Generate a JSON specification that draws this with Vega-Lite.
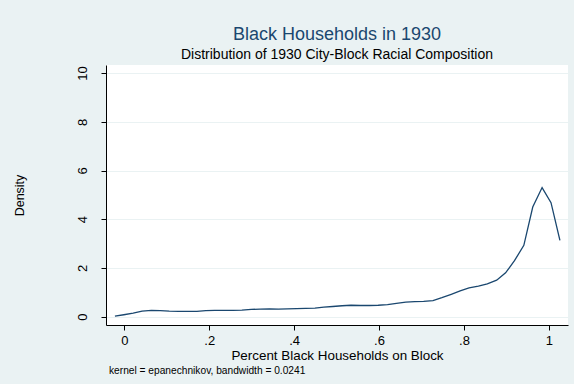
{
  "$schema": "https://vega.github.io/schema/vega-lite/v6.json",
  "autosize": {"type": "pad"},
  "padding": {"left": 13, "top": 26, "right": 6, "bottom": 7},
  "background": "#eaf2f3",
  "title": {
    "text": "Black Households in 1930",
    "subtitle": "Distribution of 1930 City-Block Racial Composition",
    "anchor": "middle",
    "frame": "group",
    "font": "Liberation Sans",
    "fontSize": 18,
    "fontWeight": "normal",
    "color": "#1a476f",
    "subtitleFont": "Liberation Sans",
    "subtitleFontSize": 14,
    "subtitleColor": "#000000",
    "subtitlePadding": 4,
    "offset": 3
  },
  "config": {
    "view": {"stroke": null, "fill": "#ffffff"},
    "font": "Liberation Sans"
  },
  "vconcat": [
    {
      "width": 462,
      "height": 260,
      "title": {
        "text": "kernel = epanechnikov, bandwidth = 0.0241",
        "orient": "bottom",
        "anchor": "start",
        "frame": "group",
        "font": "Liberation Sans",
        "fontSize": 10.2,
        "fontWeight": "normal",
        "color": "#000000",
        "offset": 5,
        "dx": 3
      },
      "data": {
        "values": [
          {"x": -0.022, "density": 0.02},
          {"x": -0.001, "density": 0.08},
          {"x": 0.021, "density": 0.15},
          {"x": 0.042, "density": 0.23},
          {"x": 0.064, "density": 0.26},
          {"x": 0.085, "density": 0.25},
          {"x": 0.106, "density": 0.23},
          {"x": 0.128, "density": 0.22},
          {"x": 0.149, "density": 0.22},
          {"x": 0.171, "density": 0.22},
          {"x": 0.192, "density": 0.25},
          {"x": 0.213, "density": 0.26},
          {"x": 0.235, "density": 0.26},
          {"x": 0.256, "density": 0.26},
          {"x": 0.277, "density": 0.27},
          {"x": 0.299, "density": 0.3},
          {"x": 0.32, "density": 0.31},
          {"x": 0.342, "density": 0.32},
          {"x": 0.363, "density": 0.31},
          {"x": 0.384, "density": 0.32},
          {"x": 0.406, "density": 0.33},
          {"x": 0.427, "density": 0.34},
          {"x": 0.449, "density": 0.35},
          {"x": 0.47, "density": 0.39},
          {"x": 0.491, "density": 0.42},
          {"x": 0.513, "density": 0.45},
          {"x": 0.534, "density": 0.47},
          {"x": 0.556, "density": 0.46},
          {"x": 0.577, "density": 0.46},
          {"x": 0.598, "density": 0.47},
          {"x": 0.62, "density": 0.5},
          {"x": 0.641, "density": 0.55},
          {"x": 0.663, "density": 0.6},
          {"x": 0.684, "density": 0.62},
          {"x": 0.705, "density": 0.63},
          {"x": 0.727, "density": 0.66},
          {"x": 0.748, "density": 0.78},
          {"x": 0.77, "density": 0.92},
          {"x": 0.791, "density": 1.06},
          {"x": 0.812, "density": 1.18},
          {"x": 0.834, "density": 1.26},
          {"x": 0.855, "density": 1.35},
          {"x": 0.877, "density": 1.5},
          {"x": 0.898, "density": 1.8},
          {"x": 0.919, "density": 2.3},
          {"x": 0.941, "density": 2.93},
          {"x": 0.962, "density": 4.5},
          {"x": 0.984, "density": 5.3},
          {"x": 1.005, "density": 4.68},
          {"x": 1.026, "density": 3.13}
        ]
      },
      "mark": {"type": "line", "color": "#1a476f", "strokeWidth": 1.3},
      "encoding": {
        "x": {
          "field": "x",
          "type": "quantitative",
          "scale": {"domain": [-0.043, 1.045], "nice": false, "zero": false},
          "axis": {
            "values": [0, 0.2, 0.4, 0.6, 0.8, 1],
            "labelExpr": "datum.value == 0 ? '0' : datum.value == 1 ? '1' : slice(format(datum.value, '.1f'), 1)",
            "title": "Percent Black Households on Block",
            "titleFont": "Liberation Sans",
            "titleFontSize": 13.4,
            "titleFontWeight": "normal",
            "titleColor": "#000000",
            "titlePadding": 1,
            "labelFont": "Liberation Sans",
            "labelFontSize": 13,
            "labelColor": "#000000",
            "labelPadding": 4,
            "tickSize": 5,
            "tickColor": "#000000",
            "domainColor": "#000000",
            "grid": false,
            "labelFlush": false
          }
        },
        "y": {
          "field": "density",
          "type": "quantitative",
          "scale": {"domain": [-0.34, 10.33], "nice": false, "zero": false},
          "axis": {
            "values": [0, 2, 4, 6, 8, 10],
            "title": "Density",
            "titleFont": "Liberation Sans",
            "titleFontSize": 12.5,
            "titleFontWeight": "normal",
            "titleColor": "#000000",
            "titleX": -87,
            "titleY": 130,
            "titleAlign": "center",
            "titleBaseline": "middle",
            "titleAngle": 270,
            "labelFont": "Liberation Sans",
            "labelFontSize": 13,
            "labelColor": "#000000",
            "labelAngle": 270,
            "labelPadding": 12,
            "tickSize": 5,
            "tickColor": "#000000",
            "domainColor": "#000000",
            "grid": true,
            "gridColor": "#eaf2f3",
            "gridWidth": 1.2,
            "labelFlush": false
          }
        }
      }
    }
  ]
}
